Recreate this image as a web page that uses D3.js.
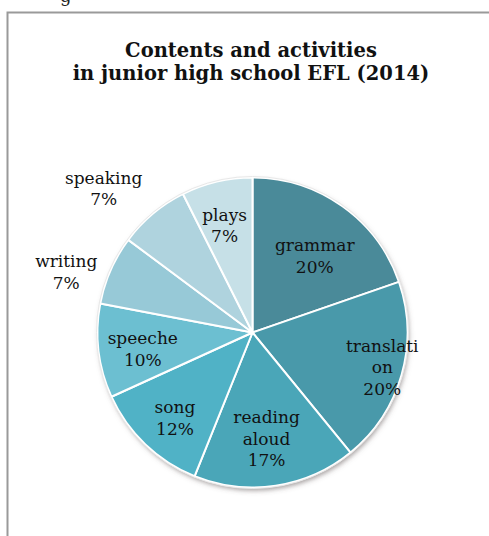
<!DOCTYPE html>
<html>
<head>
<meta charset="utf-8">
<script src="https://cdn.jsdelivr.net/npm/d3@7/dist/d3.min.js"></script>
<style>
  html, body { margin: 0; padding: 0; background: #fff; }
  svg { display: block; }
</style>
</head>
<body>
<svg id="chart" width="489" height="536"></svg>
<script>
// ---- data ----
const categories = ["grammar", "translation", "reading aloud", "song", "speeche", "writing", "speaking", "plays"];
const values = [19.7, 19.4, 17.0, 12.1, 9.8, 7.2, 7.4, 7.4];
const percentLabels = ["20%", "20%", "17%", "12%", "10%", "7%", "7%", "7%"];
const labelLines = [["grammar"], ["translati", "on"], ["reading", "aloud"], ["song"], ["speeche"], ["writing"], ["speaking"], ["plays"]];
const titleLines = ["Contents and activities", "in junior high school EFL (2014)"];

// ---- styling / layout ----
const colors = ["#4a8a99", "#4999aa", "#4aa6b8", "#50b2c6", "#6cbfd1", "#97c9d7", "#afd3de", "#c6e0e7"];
// label anchor: [angle offset from slice middle (deg), radius]
const labelPolar = [[6, 94], [1.6, 136], [1.5, 113], [-3.5, 120], [-4.7, 112], [-7.5, 194], [-7.2, 203], [-2.1, 105]];

const W = 489, H = 536;
const cx = 252.5, cy = 332.5, R = 155;
const svg = d3.select("#chart");

// defs: shadow
const defs = svg.append("defs");
const f = defs.append("filter").attr("id", "shadow").attr("x", "-20%").attr("y", "-20%").attr("width", "140%").attr("height", "140%");
f.append("feDropShadow").attr("dx", 1.5).attr("dy", 3).attr("stdDeviation", 2.5)
  .attr("flood-color", "#5a5050").attr("flood-opacity", 0.55);

// partially visible text above the frame (as in the reference)
svg.append("text").attr("x", 60).attr("y", 2)
  .attr("font-family", "DejaVu Serif, serif").attr("font-size", 18).attr("fill", "#222")
  .text("g");

// frame
svg.append("path")
  .attr("d", "M7.5," + (H + 10) + " L7.5,12.5 L" + (W + 10) + ",12.5")
  .attr("fill", "none").attr("stroke", "#9a9a9a").attr("stroke-width", 2);

// title
const title = svg.append("text")
  .attr("text-anchor", "middle")
  .attr("font-family", "DejaVu Serif, serif")
  .attr("font-weight", "bold")
  .attr("font-size", 19.5)
  .attr("fill", "#111");
titleLines.forEach((t, i) => {
  title.append("tspan").attr("x", 251).attr("y", 57 + i * 23).text(t);
});

// pie
const pie = d3.pie().sort(null).value(d => d);
const arcs = pie(values);
const arc = d3.arc().innerRadius(0).outerRadius(R);

const g = svg.append("g").attr("transform", `translate(${cx},${cy})`);
g.append("circle").attr("r", R).attr("fill", "#fff").attr("filter", "url(#shadow)");
g.selectAll("path.slice")
  .data(arcs)
  .join("path")
  .attr("class", "slice")
  .attr("d", arc)
  .attr("fill", (d, i) => colors[i])
  .attr("stroke", "#fff")
  .attr("stroke-width", 2)
  .attr("stroke-linejoin", "round");
g.append("circle").attr("r", R + 1).attr("fill", "none").attr("stroke", "#e8e8e8").attr("stroke-width", 1);

// labels
const lh = 21.5;
arcs.forEach((d, i) => {
  const mid = (d.startAngle + d.endAngle) / 2 + labelPolar[i][0] * Math.PI / 180;
  const r = labelPolar[i][1];
  const x = r * Math.sin(mid), y = -r * Math.cos(mid);
  const lines = labelLines[i].concat([percentLabels[i]]);
  const t = g.append("text")
    .attr("text-anchor", "middle")
    .attr("font-family", "DejaVu Serif, serif")
    .attr("font-size", 17)
    .attr("fill", "#111");
  lines.forEach((s, k) => {
    t.append("tspan").attr("x", x).attr("y", y + (k - (lines.length - 1) / 2) * lh).text(s);
  });
});
</script>
</body>
</html>
